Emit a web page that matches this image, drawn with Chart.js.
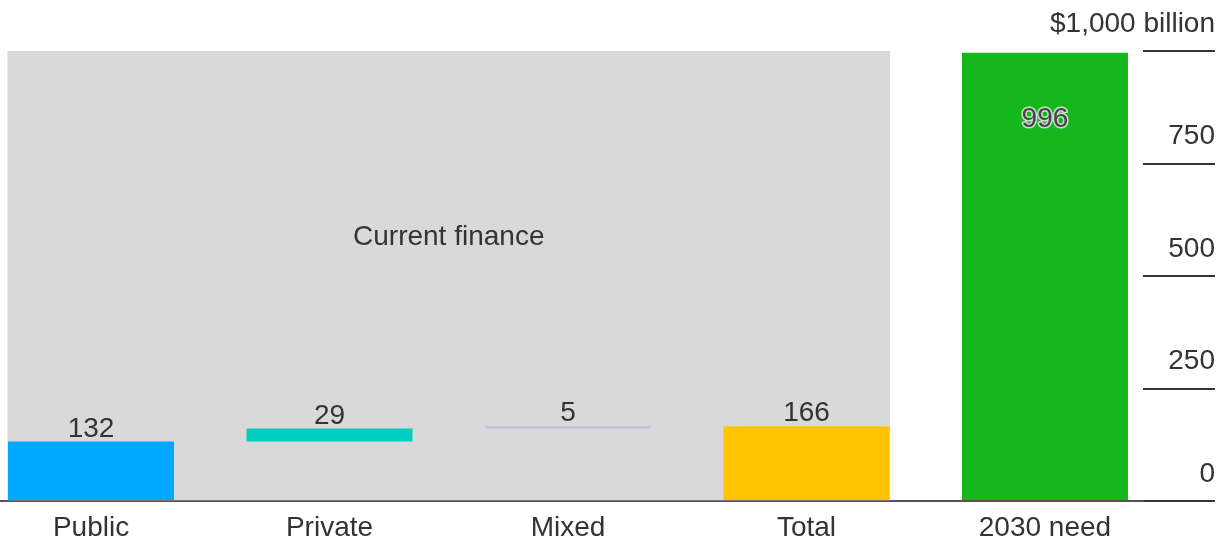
<!DOCTYPE html>
<html>
<head>
<meta charset="utf-8">
<script src="https://cdn.jsdelivr.net/npm/chart.js@4/dist/chart.umd.min.js"></script>
<style>
  html, body { margin: 0; padding: 0; background: #fff; }
  #wrap { width: 1222px; height: 545px; }
</style>
</head>
<body>
<div id="wrap"><canvas id="chart"></canvas></div>
<script>
const categories = ["Public", "Private", "Mixed", "Total", "2030 need"];
const amounts = [132, 29, 5, 166, 996];
const isTotal = [false, false, false, true, true];
const barColors = ["#00a9ff", "#00cfc0", "#cdb6e8", "#ffc300", "#14b81c"];
const groupLabel = "Current finance";
const groupTop = 1000;
const groupCategories = [0, 3];
const yTicks = [0, 250, 500, 750, 1000];
const topTickLabel = "$1,000 billion";

const FONT = "'Liberation Sans', Arial, sans-serif";
const TEXT = "#333";

// waterfall: pieces stack on each other, totals start from zero
let running = 0;
const bars = amounts.map((v, i) => {
    if (isTotal[i]) return { x: i, y: [0, v] };
    const b = { x: i, y: [running, running + v] };
    running += v;
    return b;
});

const xMin = -0.3816, xMax = 4.411;

const labelPlugin = {
    id: "labels",
    afterDatasetsDraw(chart) {
        const ctx = chart.ctx;
        ctx.save();
        ctx.font = "28px " + FONT;
        ctx.textAlign = "center";
        ctx.textBaseline = "alphabetic";

        const bg = chart.getDatasetMeta(0).data[0];
        ctx.fillStyle = TEXT;
        ctx.fillText(groupLabel, bg.x, bg.y + (bg.base - bg.y) * 0.433);

        const meta = chart.getDatasetMeta(1);
        meta.data.forEach((el, i) => {
            const txt = String(amounts[i]);
            if (i === amounts.length - 1) {
                ctx.lineJoin = "round";
                ctx.lineWidth = 3;
                ctx.strokeStyle = "rgba(225,225,225,0.9)";
                ctx.strokeText(txt, el.x, el.y + 74);
                ctx.fillStyle = "#444";
                ctx.fillText(txt, el.x, el.y + 74);
            } else {
                ctx.fillStyle = TEXT;
                ctx.fillText(txt, el.x, el.y - 5);
            }
        });
        ctx.restore();
    }
};

const noPad = s => { s.paddingTop = 0; s.paddingBottom = 0; s.paddingLeft = 0; s.paddingRight = 0; };

new Chart(document.getElementById("chart"), {
    type: "bar",
    data: {
        datasets: [
            {
                data: [{ x: (groupCategories[0] + groupCategories[1]) / 2, y: [0, groupTop] }],
                backgroundColor: "#d9d9d9",
                xAxisID: "x2",
                barThickness: 882,
                grouped: false,
                order: 2
            },
            {
                data: bars,
                backgroundColor: barColors,
                xAxisID: "x",
                barPercentage: 0.696,
                categoryPercentage: 1,
                grouped: false,
                order: 1
            }
        ]
    },
    options: {
        responsive: true,
        maintainAspectRatio: false,
        animation: false,
        layout: { padding: { top: 51, left: 0, right: 0, bottom: 0 } },
        plugins: { legend: { display: false }, tooltip: { enabled: false } },
        scales: {
            x: {
                type: "linear",
                offset: false,
                min: xMin,
                max: xMax,
                afterBuildTicks: s => { s.ticks = categories.map((c, i) => ({ value: i })); },
                afterFit: s => { s.height = 44; noPad(s); },
                grid: { offset: false, drawOnChartArea: false, drawTicks: false },
                border: { display: true, color: "#555", width: 2 },
                ticks: {
                    autoSkip: false,
                    maxRotation: 0,
                    padding: 10,
                    color: TEXT,
                    font: { family: FONT, size: 28 },
                    callback: v => categories[v]
                }
            },
            x2: {
                type: "linear",
                offset: false,
                min: xMin,
                max: xMax,
                grid: { offset: false },
                display: false
            },
            y: {
                position: "right",
                min: 0,
                max: 1000,
                afterBuildTicks: s => { s.ticks = yTicks.map(v => ({ value: v })); },
                afterFit: s => { s.width = 79; noPad(s); },
                grid: { drawOnChartArea: false, drawTicks: true, tickLength: 72, color: "#333", lineWidth: 2 },
                border: { display: false },
                ticks: {
                    mirror: true,
                    padding: 72,
                    labelOffset: -27,
                    color: TEXT,
                    font: { family: FONT, size: 28 },
                    callback: v => v === 1000 ? topTickLabel : v
                }
            }
        }
    },
    plugins: [labelPlugin]
});
</script>
</body>
</html>
